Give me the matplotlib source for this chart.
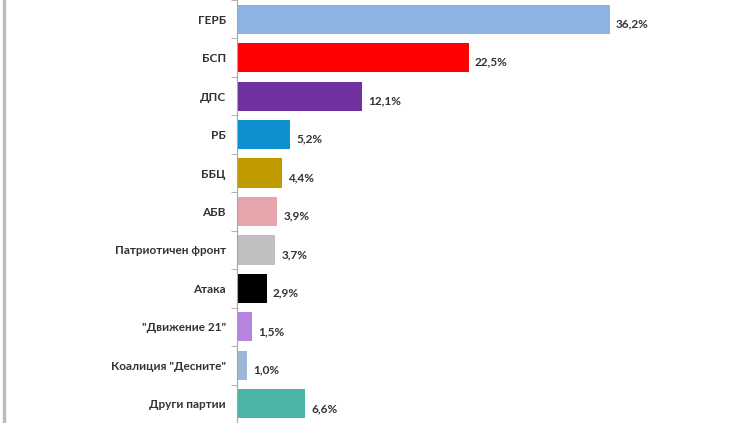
import matplotlib

matplotlib.use("Agg")
import matplotlib.pyplot as plt
import numpy as np

parties = ["ГЕРБ", "БСП", "ДПС", "РБ", "ББЦ", "АБВ", "Патриотичен фронт", "Атака",
           "\"Движение 21\"", "Коалиция \"Десните\"", "Други партии"]
values = [36.2, 22.5, 12.1, 5.2, 4.4, 3.9, 3.7, 2.9, 1.5, 1.0, 6.6]
colors = ["#8db4e2", "#ff0000", "#7030a0", "#0e8fcf", "#bf9b00", "#e6a5aa", "#bfbfbf",
          "#000000", "#b783e0", "#9fb7d6", "#4bb5a5"]

plt.rcParams["font.family"] = ["Lato", "DejaVu Sans"]

fig = plt.figure(figsize=(7.52, 4.23), dpi=100)
ax = fig.add_axes([0, 0, 1, 1])
y = np.arange(len(parties))
ax.barh(y, values, height=0.76, color=colors)
for yi, v in zip(y, values):
    ax.text(v + 0.6, yi + 0.12, f"{v:.1f}%".replace(".", ","), va="center", ha="left",
            fontsize=8.5, fontweight="bold", color="#333333")

ax.set_xlim(-23.0, 50.0)
ax.set_ylim(10.15, -0.33)
for s in ["top", "right", "bottom"]:
    ax.spines[s].set_visible(False)
ax.spines["left"].set_position(("data", 0))
ax.spines["left"].set_color("#a6a6a6")
ax.set_xticks([])
ax.set_yticks(y)
ax.set_yticklabels(parties, fontsize=8.5, fontweight="bold", color="#333333")
ax.tick_params(axis="y", which="major", length=0, pad=8)
ax.set_yticks(np.arange(-0.5, len(parties), 1), minor=True)
ax.tick_params(axis="y", which="minor", length=4, color="#a6a6a6")
fig.add_artist(plt.Line2D([0.005, 0.005], [0, 1], color="#bbbbbb", linewidth=2.5))

fig.savefig("out.png", dpi=100)
